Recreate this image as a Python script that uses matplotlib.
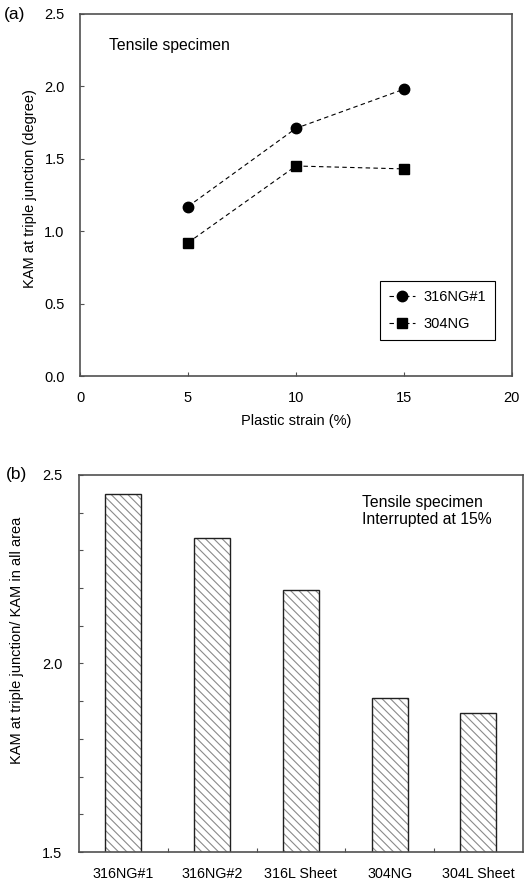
import matplotlib
matplotlib.use('Agg')
import matplotlib.pyplot as plt
from matplotlib.ticker import MultipleLocator, FixedLocator

plt.rcParams['font.family'] = ['Liberation Sans', 'DejaVu Sans']
plt.rcParams['hatch.linewidth'] = 0.8
plt.rcParams['hatch.color'] = '#8a8a8a'

# (a) KAM at triple junction vs plastic strain
strain = [5, 10, 15]
kam_316ng1 = [1.17, 1.71, 1.98]
kam_304ng = [0.92, 1.45, 1.43]

# (b) ratio at 15% strain
materials = ['316NG#1', '316NG#2', '316L Sheet', '304NG', '304L Sheet']
ratio = [2.45, 2.333, 2.196, 1.908, 1.868]

spine_col = '#505050'

fig = plt.figure(figsize=(5.24, 8.81), dpi=100)

# ---- panel (a)
ax1 = fig.add_axes([0.1527, 0.5732, 0.824, 0.411])
ax1.plot(strain, kam_316ng1, color='black', lw=0.8, ls=(0, (4, 3)),
         marker='o', ms=7.5, label='316NG#1')
ax1.plot(strain, kam_304ng, color='black', lw=0.8, ls=(0, (4, 3)),
         marker='s', ms=7, label='304NG')
ax1.set_xlim(0, 20)
ax1.set_ylim(0, 2.5)
ax1.xaxis.set_major_locator(MultipleLocator(5))
ax1.yaxis.set_major_locator(MultipleLocator(0.5))
ax1.yaxis.set_major_formatter(matplotlib.ticker.FormatStrFormatter('%.1f'))
ax1.tick_params(direction='in', length=3, width=0.8, color=spine_col,
                labelsize=10.5, pad=11)
ax1.set_xlabel('Plastic strain (%)', fontsize=10.5, labelpad=6)
ax1.set_ylabel('KAM at triple junction (degree)', fontsize=10.5)
ax1.yaxis.set_label_coords(-0.099, 0.517)
ax1.text(0.067, 0.914, 'Tensile specimen', transform=ax1.transAxes,
         fontsize=11.3, va='center', ha='left')
leg = ax1.legend(loc='lower right', bbox_to_anchor=(0.961, 0.0994),
                 fontsize=10.5, handlelength=1.8, labelspacing=0.9,
                 fancybox=False, framealpha=1, edgecolor='black',
                 borderaxespad=0, handletextpad=0.6, borderpad=0.6)
leg.get_frame().set_linewidth(0.8)
fig.text(0.008, 0.983, '(a)', fontsize=12.5, va='center', ha='left')

# ---- panel (b)
ax2 = fig.add_axes([0.1508, 0.0329, 0.847, 0.428])
x = list(range(len(materials)))
ax2.bar(x, ratio, width=0.405, bottom=0, color='white', hatch='\\\\\\\\',
        edgecolor='#8a8a8a', linewidth=0)
ax2.bar(x, ratio, width=0.405, bottom=0, fill=False, edgecolor='#202020',
        linewidth=1.0)
ax2.set_xlim(-0.5, 4.5)
ax2.set_ylim(1.5, 2.5)
ax2.set_xticks(x)
ax2.set_xticklabels(materials)
ax2.xaxis.set_minor_locator(FixedLocator([0.5, 1.5, 2.5, 3.5]))
ax2.yaxis.set_major_locator(MultipleLocator(0.5))
ax2.yaxis.set_minor_locator(MultipleLocator(0.1))
ax2.yaxis.set_major_formatter(matplotlib.ticker.FormatStrFormatter('%.1f'))
ax2.tick_params(axis='x', which='major', length=0, labelsize=10.3, pad=11)
ax2.tick_params(axis='x', which='minor', direction='in', length=3,
                width=0.8, color=spine_col)
ax2.tick_params(axis='y', which='both', direction='in', length=3,
                width=0.8, color=spine_col, labelsize=10.5, pad=12)
ax2.set_ylabel('KAM at triple junction/ KAM in all area', fontsize=10.5)
ax2.yaxis.set_label_coords(-0.124, 0.56)
ax2.text(0.637, 0.928, 'Tensile specimen', transform=ax2.transAxes,
         fontsize=11.3, va='center', ha='left')
ax2.text(0.637, 0.883, 'Interrupted at 15%', transform=ax2.transAxes,
         fontsize=11.3, va='center', ha='left')
fig.text(0.012, 0.461, '(b)', fontsize=12.5, va='center', ha='left')

for ax in (ax1, ax2):
    for s in ax.spines.values():
        s.set_color(spine_col)
        s.set_linewidth(1.2)

fig.savefig('out.png', dpi=100, facecolor='white')
